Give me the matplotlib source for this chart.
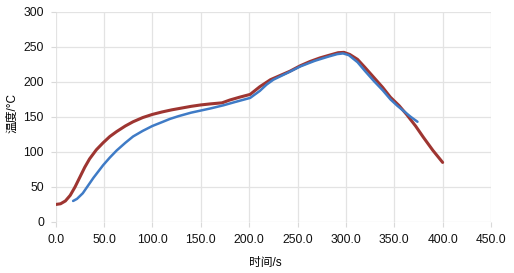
import matplotlib
matplotlib.use('Agg')
import matplotlib.pyplot as plt

plt.rcParams['font.family'] = ['Liberation Sans', 'Noto Sans CJK SC', 'DejaVu Sans']

#%% Data

red_x = [0, 5, 10, 15, 20, 25, 30, 35, 42, 49, 56, 63, 72, 80, 90, 100, 110, 120,
         130, 140, 150, 160, 172, 180, 190, 201, 211, 222, 232, 242, 253, 263, 273,
         283, 292, 298, 304, 312, 320, 329, 338, 346, 355, 363, 372, 380, 390, 400]
red_y = [25, 26, 30, 38, 50, 64, 78, 90, 103, 113, 122, 129, 137, 143, 149, 153.5, 157, 160,
         162.5, 165, 167, 168.5, 170, 174, 178, 182, 193, 203, 209, 215, 223, 229, 234,
         238, 241.5, 242, 239, 232, 220, 206, 192, 178, 166, 153, 137, 121, 102, 85]

blue_x = [18, 22, 28, 33, 39, 44, 49, 56, 63, 72, 80, 90, 100, 110, 118, 127, 140, 150,
          160, 173.5, 185, 201, 211, 218, 225, 240, 253, 268, 282, 291, 297, 303, 312,
          320, 329, 338, 346, 353, 360, 367, 374]
blue_y = [30, 33, 41, 51, 63, 72, 81, 92, 102, 113, 122, 130, 137, 142.5, 147, 151, 156, 159,
          162, 166.5, 171, 177, 187, 196, 203, 213, 222, 230, 236, 239.5, 240.5, 238, 228,
          215, 201, 188, 175, 166, 158, 150, 143]

x_ticks = [0, 50, 100, 150, 200, 250, 300, 350, 400, 450]
y_ticks = [0, 50, 100, 150, 200, 250, 300]

#%% Plot

fig = plt.figure(figsize=(5.14, 2.73), dpi=100)
ax = fig.add_axes([55.7 / 514, 51 / 273, 435.3 / 514, 210.3 / 273])

ax.plot(red_x, red_y, color='#9e3531', linewidth=2.2, solid_capstyle='round')
ax.plot(blue_x, blue_y, color='#3f7bc6', linewidth=1.8, solid_capstyle='round')

ax.set_xlim(0, 450)
ax.set_ylim(0, 300)
ax.set_xticks(x_ticks)
ax.set_xticklabels(['%.1f' % v for v in x_ticks])
ax.set_yticks(y_ticks)
ax.grid(True, color='#e3e3e3', linewidth=0.9)
ax.set_axisbelow(True)
for s in ax.spines.values():
    s.set_visible(False)
ax.tick_params(length=3.5, width=0.8, color='#d9d9d9', labelsize=8.7,
               labelcolor='#111111', pad=5)

fig.text(265.5 / 514, 1 - 263 / 273, '时间/s', fontsize=8.5, ha='center', va='center')
fig.text(12 / 514, 1 - 113 / 273, '温度/°C', fontsize=8.5, ha='center', va='center',
         rotation=90)

fig.savefig('out.png', dpi=100)
